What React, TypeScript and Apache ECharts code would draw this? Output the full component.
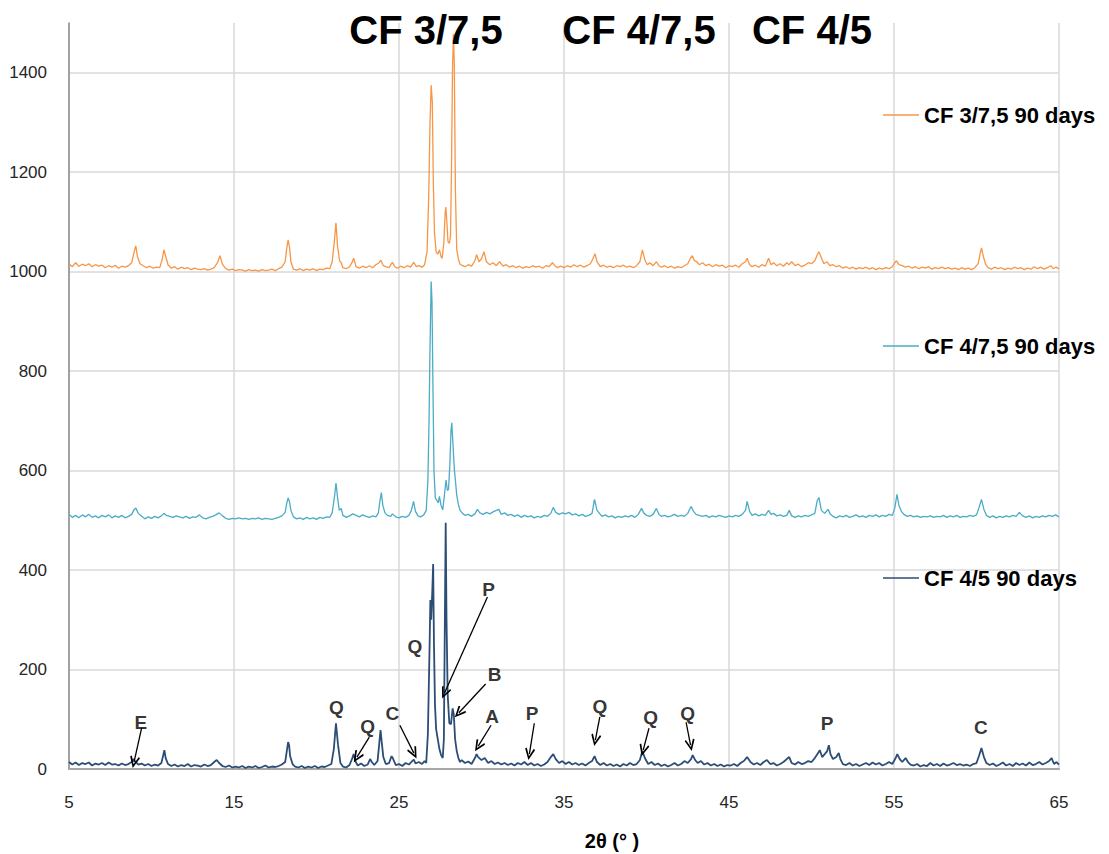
import React, { useEffect, useRef } from "react";
import * as echarts from "echarts";

const seriesNames = ["CF 3/7,5 90 days", "CF 4/7,5 90 days", "CF 4/5 90 days"];
const sampleTitles = ["CF 3/7,5", "CF 4/7,5", "CF 4/5"];
const axisTitle = "2θ (° )";

// CF 3/7,5 90 days  [2θ, intensity]
const cf375: number[][] = [
  [5.0,1016],[5.2,1010],[5.4,1018],[5.6,1011],[5.8,1015],[6.0,1012],[6.2,1016],[6.4,1010],[6.6,1014],[6.8,1011],
  [7.0,1013],[7.2,1008],[7.4,1012],[7.6,1009],[7.8,1013],[8.0,1007],[8.2,1011],[8.4,1009],[8.6,1012],[8.8,1018],
  [8.95,1040],[9.05,1052],[9.15,1030],[9.3,1016],[9.5,1012],[9.7,1008],[9.9,1011],[10.1,1007],[10.3,1009],[10.5,1008],
  [10.65,1025],[10.75,1044],[10.85,1032],[11.0,1014],[11.2,1007],[11.4,1010],[11.6,1005],[11.8,1009],[12.0,1006],[12.2,1008],
  [12.4,1004],[12.6,1007],[12.8,1005],[13.0,1004],[13.2,1006],[13.4,1003],[13.6,1005],[13.8,1008],[14.0,1018],[14.15,1032],
  [14.3,1015],[14.5,1006],[14.7,1003],[14.9,1005],[15.1,1002],[15.3,1004],[15.5,1003],[15.7,1001],[15.9,1004],[16.1,1002],
  [16.3,1003],[16.5,1001],[16.7,1004],[16.9,1002],[17.1,1003],[17.3,1005],[17.5,1002],[17.7,1006],[17.9,1009],[18.1,1020],
  [18.2,1048],[18.28,1064],[18.36,1050],[18.45,1020],[18.6,1005],[18.8,1003],[19.0,1006],[19.2,1002],[19.4,1005],[19.6,1003],
  [19.8,1006],[20.0,1002],[20.2,1005],[20.4,1004],[20.6,1007],[20.8,1006],[20.95,1020],[21.08,1060],[21.18,1098],[21.28,1050],
  [21.4,1022],[21.5,1018],[21.6,1008],[21.8,1006],[22.0,1010],[22.15,1018],[22.25,1027],[22.4,1010],[22.6,1007],[22.8,1011],
  [23.0,1008],[23.2,1012],[23.4,1008],[23.6,1014],[23.8,1018],[23.9,1023],[24.05,1012],[24.2,1010],[24.4,1008],[24.6,1019],
  [24.75,1010],[24.9,1007],[25.1,1011],[25.3,1008],[25.5,1012],[25.7,1009],[25.9,1019],[26.05,1010],[26.2,1012],[26.4,1009],
  [26.55,1014],[26.7,1040],[26.8,1150],[26.88,1300],[26.95,1375],[27.02,1340],[27.08,1180],[27.15,1078],[27.25,1040],[27.35,1035],
  [27.45,1044],[27.55,1030],[27.62,1027],[27.72,1060],[27.8,1120],[27.84,1130],[27.9,1100],[27.97,1060],[28.05,1057],[28.12,1070],
  [28.18,1200],[28.24,1400],[28.3,1478],[28.35,1420],[28.42,1160],[28.5,1045],[28.6,1025],[28.7,1015],[28.85,1012],[29.0,1010],
  [29.2,1014],[29.4,1011],[29.6,1022],[29.7,1034],[29.85,1020],[30.0,1026],[30.15,1040],[30.3,1020],[30.5,1014],[30.7,1018],
  [30.9,1012],[31.1,1020],[31.3,1011],[31.5,1014],[31.7,1009],[31.9,1012],[32.1,1008],[32.3,1011],[32.5,1007],[32.7,1010],
  [32.9,1008],[33.1,1012],[33.3,1009],[33.5,1011],[33.7,1007],[33.9,1012],[34.1,1010],[34.3,1018],[34.45,1012],[34.6,1008],
  [34.8,1011],[35.0,1008],[35.2,1012],[35.4,1009],[35.6,1014],[35.8,1010],[36.0,1013],[36.2,1009],[36.4,1012],[36.6,1016],
  [36.75,1026],[36.88,1036],[37.0,1020],[37.2,1010],[37.4,1013],[37.6,1009],[37.8,1011],[38.0,1008],[38.2,1012],[38.4,1010],
  [38.6,1013],[38.8,1009],[39.0,1011],[39.2,1008],[39.4,1012],[39.6,1020],[39.75,1044],[39.9,1024],[40.05,1014],[40.2,1018],
  [40.4,1012],[40.6,1020],[40.75,1012],[40.9,1009],[41.1,1012],[41.3,1008],[41.5,1011],[41.7,1007],[41.9,1010],[42.1,1008],
  [42.3,1012],[42.5,1016],[42.65,1026],[42.78,1032],[42.9,1022],[43.05,1020],[43.2,1014],[43.4,1018],[43.6,1012],[43.8,1015],
  [44.0,1010],[44.2,1014],[44.4,1011],[44.6,1013],[44.8,1008],[45.0,1012],[45.2,1010],[45.4,1013],[45.6,1009],[45.8,1016],
  [46.0,1020],[46.1,1027],[46.25,1014],[46.4,1010],[46.6,1013],[46.8,1009],[47.0,1014],[47.2,1011],[47.4,1027],[47.55,1014],
  [47.7,1018],[47.9,1012],[48.1,1016],[48.3,1011],[48.5,1018],[48.65,1014],[48.8,1020],[49.0,1012],[49.2,1015],[49.4,1010],
  [49.6,1013],[49.8,1018],[50.0,1016],[50.2,1022],[50.35,1034],[50.45,1040],[50.6,1028],[50.75,1016],[50.95,1020],[51.1,1012],
  [51.3,1014],[51.5,1010],[51.7,1012],[51.9,1007],[52.1,1010],[52.3,1006],[52.5,1009],[52.7,1005],[52.9,1008],[53.1,1006],
  [53.3,1009],[53.5,1005],[53.7,1008],[53.9,1004],[54.1,1007],[54.3,1005],[54.5,1008],[54.7,1006],[54.9,1010],[55.05,1018],
  [55.15,1022],[55.3,1014],[55.5,1012],[55.7,1009],[55.9,1011],[56.1,1007],[56.3,1010],[56.5,1006],[56.7,1009],[56.9,1007],
  [57.1,1010],[57.3,1005],[57.5,1008],[57.7,1006],[57.9,1009],[58.1,1006],[58.3,1008],[58.5,1005],[58.7,1007],[58.9,1004],
  [59.1,1008],[59.3,1005],[59.5,1007],[59.7,1004],[59.9,1008],[60.1,1016],[60.22,1036],[60.3,1048],[60.42,1030],[60.55,1015],
  [60.7,1008],[60.9,1005],[61.1,1009],[61.3,1006],[61.5,1008],[61.7,1004],[61.9,1007],[62.1,1005],[62.3,1009],[62.5,1006],
  [62.7,1008],[62.9,1004],[63.1,1007],[63.3,1005],[63.5,1010],[63.7,1006],[63.9,1009],[64.1,1005],[64.3,1008],[64.5,1012],
  [64.65,1006],[64.8,1009],[65.0,1006],
];

// CF 4/7,5 90 days
const cf475: number[][] = [
  [5.0,512],[5.2,506],[5.4,510],[5.6,505],[5.8,511],[6.0,507],[6.2,512],[6.4,506],[6.6,509],[6.8,505],
  [7.0,510],[7.2,507],[7.4,511],[7.6,505],[7.8,509],[8.0,506],[8.2,510],[8.4,505],[8.6,508],[8.8,512],
  [8.95,522],[9.05,525],[9.2,514],[9.4,508],[9.6,503],[9.8,507],[10.0,504],[10.2,508],[10.4,505],[10.6,509],
  [10.75,514],[10.9,510],[11.1,508],[11.3,506],[11.5,509],[11.7,507],[11.9,505],[12.1,508],[12.3,504],[12.5,507],
  [12.7,506],[12.9,511],[13.1,505],[13.3,503],[13.5,506],[13.7,508],[13.9,511],[14.1,515],[14.3,509],[14.5,504],
  [14.7,502],[14.9,504],[15.1,503],[15.3,505],[15.5,503],[15.7,504],[15.9,502],[16.1,504],[16.3,503],[16.5,505],
  [16.7,502],[16.9,504],[17.1,503],[17.3,502],[17.5,504],[17.7,506],[17.9,509],[18.1,516],[18.2,535],[18.28,545],
  [18.36,538],[18.45,520],[18.6,507],[18.8,503],[19.0,505],[19.2,502],[19.4,506],[19.6,503],[19.8,505],[20.0,502],
  [20.2,506],[20.4,504],[20.6,507],[20.8,506],[20.95,515],[21.1,550],[21.18,575],[21.28,545],[21.38,520],[21.5,524],
  [21.6,510],[21.8,506],[22.0,509],[22.2,513],[22.4,510],[22.6,507],[22.8,511],[23.0,508],[23.2,506],[23.4,509],
  [23.6,507],[23.75,515],[23.85,540],[23.93,556],[24.02,530],[24.15,515],[24.3,510],[24.5,508],[24.6,513],[24.8,507],
  [25.0,505],[25.2,508],[25.4,506],[25.6,510],[25.75,520],[25.88,538],[26.0,518],[26.15,509],[26.3,507],[26.5,511],
  [26.65,520],[26.75,580],[26.82,700],[26.88,850],[26.95,980],[27.0,940],[27.06,760],[27.12,600],[27.2,545],[27.3,540],
  [27.38,535],[27.45,548],[27.55,530],[27.65,521],[27.75,550],[27.85,581],[27.93,560],[28.0,562],[28.08,610],[28.15,680],
  [28.2,696],[28.26,660],[28.32,622],[28.36,600],[28.42,580],[28.5,550],[28.6,532],[28.7,520],[28.85,514],[29.0,510],
  [29.2,512],[29.4,508],[29.6,513],[29.75,522],[29.9,515],[30.1,512],[30.3,516],[30.5,513],[30.7,517],[30.9,520],
  [31.05,522],[31.2,512],[31.4,515],[31.6,510],[31.8,512],[32.0,508],[32.2,511],[32.4,506],[32.6,510],[32.8,507],
  [33.0,509],[33.2,505],[33.4,508],[33.6,506],[33.8,510],[34.0,508],[34.2,514],[34.35,526],[34.5,516],[34.7,512],
  [34.9,515],[35.1,513],[35.3,516],[35.5,511],[35.7,513],[35.9,509],[36.1,512],[36.3,508],[36.5,510],[36.7,514],
  [36.85,542],[37.0,520],[37.15,514],[37.3,508],[37.5,511],[37.7,507],[37.9,509],[38.1,505],[38.3,508],[38.5,506],
  [38.7,509],[38.9,507],[39.1,510],[39.3,506],[39.5,512],[39.7,524],[39.85,514],[40.0,510],[40.2,508],[40.4,512],
  [40.6,524],[40.75,512],[40.9,508],[41.1,510],[41.3,507],[41.5,509],[41.7,512],[41.9,508],[42.1,510],[42.3,508],
  [42.5,514],[42.7,528],[42.85,518],[43.0,512],[43.2,510],[43.4,508],[43.6,510],[43.8,506],[44.0,509],[44.2,507],
  [44.4,510],[44.6,508],[44.8,506],[45.0,509],[45.2,507],[45.4,510],[45.6,508],[45.8,512],[46.0,520],[46.1,538],
  [46.25,518],[46.4,510],[46.6,513],[46.8,509],[47.0,512],[47.2,510],[47.4,520],[47.55,512],[47.7,514],[47.9,509],
  [48.1,511],[48.3,508],[48.5,510],[48.65,520],[48.8,509],[49.0,506],[49.2,509],[49.4,507],[49.6,510],[49.8,508],
  [50.0,511],[50.2,514],[50.35,540],[50.45,546],[50.6,520],[50.8,514],[51.0,522],[51.15,512],[51.3,508],[51.5,505],
  [51.7,509],[51.9,507],[52.1,510],[52.3,506],[52.5,508],[52.7,511],[52.9,507],[53.1,509],[53.3,506],[53.5,510],
  [53.7,508],[53.9,511],[54.1,507],[54.3,510],[54.5,508],[54.7,512],[54.9,510],[55.05,525],[55.18,552],[55.3,530],
  [55.45,518],[55.6,512],[55.8,508],[56.0,510],[56.2,507],[56.4,509],[56.6,506],[56.8,508],[57.0,507],[57.2,509],
  [57.4,506],[57.6,508],[57.8,507],[58.0,510],[58.2,506],[58.4,509],[58.6,507],[58.8,510],[59.0,506],[59.2,508],
  [59.4,507],[59.6,510],[59.8,508],[60.0,511],[60.15,525],[60.3,542],[60.45,522],[60.6,510],[60.8,506],[61.0,509],
  [61.2,505],[61.4,508],[61.6,506],[61.8,509],[62.0,507],[62.2,510],[62.4,508],[62.6,516],[62.8,509],[63.0,506],
  [63.2,509],[63.4,505],[63.6,508],[63.8,506],[64.0,509],[64.2,507],[64.4,510],[64.6,508],[64.8,511],[65.0,507],
];

// CF 4/5 90 days
const cf45: number[][] = [
  [5.0,14],[5.2,9],[5.4,13],[5.6,8],[5.8,12],[6.0,10],[6.2,13],[6.4,7],[6.6,11],[6.8,9],
  [7.0,12],[7.2,8],[7.4,13],[7.6,9],[7.8,10],[8.0,7],[8.2,11],[8.4,8],[8.6,10],[8.8,14],
  [8.9,20],[9.0,16],[9.2,9],[9.4,11],[9.6,7],[9.8,10],[10.0,6],[10.2,9],[10.4,7],[10.6,12],
  [10.7,26],[10.78,38],[10.86,22],[11.0,10],[11.2,6],[11.4,9],[11.6,5],[11.8,8],[12.0,6],[12.2,10],
  [12.4,5],[12.6,8],[12.8,7],[13.0,5],[13.2,9],[13.4,6],[13.6,8],[13.8,14],[13.95,18],[14.1,12],
  [14.3,6],[14.5,4],[14.7,7],[14.9,3],[15.1,5],[15.3,3],[15.5,6],[15.7,2],[15.9,5],[16.1,3],
  [16.3,6],[16.5,2],[16.7,4],[16.9,7],[17.1,3],[17.3,5],[17.5,4],[17.7,6],[17.9,9],[18.1,14],
  [18.2,36],[18.28,54],[18.34,48],[18.4,26],[18.55,10],[18.7,5],[18.9,3],[19.1,6],[19.3,2],[19.5,5],
  [19.7,3],[19.9,6],[20.1,2],[20.3,5],[20.5,4],[20.7,7],[20.9,10],[21.05,40],[21.18,92],[21.3,50],
  [21.45,12],[21.6,5],[21.8,3],[22.0,8],[22.15,20],[22.25,30],[22.35,16],[22.5,7],[22.7,11],[22.9,6],
  [23.1,9],[23.25,20],[23.35,14],[23.5,8],[23.7,16],[23.8,50],[23.88,78],[23.95,55],[24.05,24],[24.2,10],
  [24.4,12],[24.55,26],[24.65,20],[24.8,8],[25.0,10],[25.2,6],[25.4,12],[25.6,9],[25.8,16],[25.9,19],
  [26.0,11],[26.2,14],[26.4,10],[26.55,16],[26.65,12],[26.75,70],[26.85,240],[26.9,340],[26.95,300],[27.02,360],
  [27.07,412],[27.12,250],[27.18,130],[27.25,80],[27.35,60],[27.45,40],[27.55,28],[27.65,22],[27.72,60],[27.78,300],
  [27.83,495],[27.88,300],[27.95,150],[28.05,92],[28.15,90],[28.25,122],[28.32,110],[28.4,60],[28.5,36],[28.6,22],
  [28.7,14],[28.8,18],[29.0,12],[29.2,15],[29.4,10],[29.6,22],[29.7,30],[29.8,24],[30.0,18],[30.2,22],
  [30.4,12],[30.6,16],[30.8,10],[31.0,13],[31.2,9],[31.4,12],[31.6,8],[31.8,11],[32.0,7],[32.2,12],
  [32.4,9],[32.6,14],[32.8,8],[33.0,12],[33.2,7],[33.4,10],[33.6,6],[33.8,9],[34.0,14],[34.2,24],
  [34.35,30],[34.5,20],[34.7,12],[34.9,16],[35.1,10],[35.3,14],[35.5,9],[35.7,12],[35.9,8],[36.1,11],
  [36.3,7],[36.5,12],[36.7,16],[36.85,26],[37.0,14],[37.2,8],[37.4,12],[37.6,7],[37.8,10],[38.0,6],
  [38.2,9],[38.4,5],[38.6,10],[38.8,7],[39.0,12],[39.2,8],[39.4,10],[39.6,18],[39.75,36],[39.9,22],
  [40.1,10],[40.3,14],[40.5,8],[40.7,11],[40.9,6],[41.1,9],[41.3,5],[41.5,8],[41.7,12],[41.9,7],
  [42.1,10],[42.3,16],[42.5,12],[42.7,20],[42.8,28],[42.95,18],[43.1,12],[43.3,16],[43.5,9],[43.7,12],
  [43.9,7],[44.1,10],[44.3,6],[44.5,9],[44.7,5],[44.9,8],[45.1,7],[45.3,10],[45.5,6],[45.7,12],
  [45.9,16],[46.1,24],[46.3,14],[46.5,9],[46.7,12],[46.9,8],[47.1,14],[47.3,18],[47.5,10],[47.7,12],
  [47.9,7],[48.1,10],[48.3,14],[48.5,20],[48.65,24],[48.8,12],[49.0,9],[49.2,14],[49.4,10],[49.6,12],
  [49.8,16],[50.0,14],[50.2,22],[50.4,32],[50.5,38],[50.65,24],[50.8,30],[50.95,36],[51.05,48],[51.15,30],
  [51.3,20],[51.5,24],[51.65,32],[51.75,20],[51.9,10],[52.1,8],[52.3,12],[52.5,7],[52.7,10],[52.9,6],
  [53.1,9],[53.3,12],[53.5,8],[53.7,13],[53.9,9],[54.1,12],[54.3,7],[54.5,10],[54.7,14],[54.9,10],
  [55.1,22],[55.2,30],[55.35,20],[55.5,14],[55.7,22],[55.85,14],[56.0,9],[56.2,7],[56.4,10],[56.6,5],
  [56.8,8],[57.0,6],[57.2,12],[57.4,7],[57.6,10],[57.8,6],[58.0,11],[58.2,7],[58.4,9],[58.6,12],
  [58.8,8],[59.0,10],[59.2,7],[59.4,9],[59.6,6],[59.8,10],[60.0,12],[60.15,26],[60.3,42],[60.45,24],
  [60.6,12],[60.8,8],[61.0,11],[61.2,6],[61.4,9],[61.6,13],[61.8,7],[62.0,10],[62.2,6],[62.4,12],
  [62.6,8],[62.8,11],[63.0,7],[63.2,13],[63.4,8],[63.6,10],[63.8,14],[64.0,9],[64.2,12],[64.4,16],
  [64.55,22],[64.7,10],[64.85,14],[65.0,9],
];

// phase letters: [2θ, intensity, letter]
const peakLabels: [number, number, string][] = [
  [9.36, 94, "E"], [21.2, 123, "Q"], [23.1, 85, "Q"], [24.6, 112, "C"], [25.97, 247, "Q"],
  [30.43, 360, "P"], [30.8, 191, "B"], [30.65, 105, "A"], [33.06, 111, "P"], [37.17, 125, "Q"],
  [40.25, 103, "Q"], [42.5, 112, "Q"], [50.95, 91, "P"], [60.27, 84, "C"],
];

// arrows: [from 2θ, from intensity, to 2θ, to intensity]
const peakArrows: [number, number, number, number][] = [
  [9.4, 82, 8.94, 14], [23.2, 64, 22.45, 24], [25.05, 88, 25.9, 32], [30.36, 346, 27.76, 153],
  [30.25, 171, 28.63, 113], [30.58, 88, 29.8, 46], [33.2, 92, 32.9, 30], [37.17, 105, 36.9, 58],
  [40.15, 82, 39.8, 38], [42.4, 94, 42.67, 48],
];

const colors = ["#F79646", "#4BACC6", "#2C4D75"];
const FONT = "'Liberation Sans', Arial, sans-serif";
const chevron = "path://M5 0 L10 9 L8.6 10 L5 3.2 L1.4 10 L0 9 Z";

export default function App() {
  const ref = useRef<HTMLDivElement>(null);
  useEffect(() => {
    if (!ref.current) return;
    const chart = echarts.init(ref.current, null, { renderer: "svg" });
    const datasets = [cf375, cf475, cf45];
    const legendTops = [103, 334, 566];
    chart.setOption({
      animation: false,
      textStyle: { fontFamily: FONT },
      grid: { left: 69, right: 50, top: 23, bottom: 85, containLabel: false },
      legend: seriesNames.map((n, i) => ({
        data: [n],
        left: 883,
        top: legendTops[i],
        padding: 0,
        icon: "rect",
        itemWidth: 36,
        itemHeight: 1.6,
        itemGap: 4,
        selectedMode: false,
        textStyle: { fontFamily: FONT, fontSize: 22, fontWeight: "bold", color: "#000", lineHeight: 24 },
      })),
      xAxis: {
        type: "value",
        min: 5,
        max: 65,
        interval: 10,
        axisLine: { show: true, lineStyle: { color: "#A6A6A6", width: 2 } },
        axisTick: { show: false },
        axisLabel: { color: "#262626", fontSize: 17, margin: 25, fontFamily: FONT, formatter: (v: number) => String(v) },
        splitLine: { show: true, lineStyle: { color: "#D9D9D9", width: 1.5 } },
      },
      yAxis: {
        type: "value",
        min: 0,
        max: 1500,
        interval: 200,
        axisLine: { show: true, lineStyle: { color: "#8C8C8C", width: 1.5 } },
        axisTick: { show: false },
        axisLabel: {
          color: "#262626",
          fontSize: 17,
          margin: 22,
          showMaxLabel: false,
          fontFamily: FONT,
          formatter: (v: number) => (v % 200 === 0 ? String(v) : ""),
        },
        splitLine: { show: true, showMaxLine: false, lineStyle: { color: "#D9D9D9", width: 1.5 } },
      },
      series: [
        ...datasets.map((d, i) => ({
          name: seriesNames[i],
          type: "line",
          data: d,
          symbol: "none",
          showSymbol: false,
          smooth: false,
          color: colors[i],
          itemStyle: { color: colors[i] },
          lineStyle: { color: colors[i], width: i === 2 ? 1.8 : 1.3 },
          emphasis: { disabled: true },
          z: 3,
          ...(i === 2
            ? {
                markLine: {
                  silent: true,
                  animation: false,
                  symbol: ["none", chevron],
                  symbolSize: [10, 12],
                  label: { show: false },
                  lineStyle: { color: "#000", width: 1.3, type: "solid" },
                  emphasis: { disabled: true },
                  data: peakArrows.map((a) => [
                    { coord: [a[0], a[1]] },
                    { coord: [a[2], a[3]] },
                  ]),
                },
              }
            : {}),
        })),
        {
          name: "labels",
          type: "scatter",
          data: peakLabels.map((p) => ({ value: [p[0], p[1]], name: p[2] })),
          symbolSize: 1,
          itemStyle: { color: "transparent" },
          silent: true,
          z: 5,
          label: {
            show: true,
            position: "inside",
            formatter: (p: any) => p.name,
            color: "#000",
            fontSize: 19,
            fontWeight: "bold",
            fontFamily: FONT,
          },
        },
      ],
      graphic: [
        ...sampleTitles.map((t, i) => ({
          type: "text",
          x: [426, 639, 812][i],
          y: 30,
          z: 100,
          style: {
            text: t,
            fill: "#000",
            font: `bold 40px ${FONT}`,
            align: "center",
            verticalAlign: "middle",
            textAlign: "center",
            textVerticalAlign: "middle",
          },
        })),
        {
          type: "text",
          x: 612,
          y: 841,
          z: 100,
          style: {
            text: axisTitle,
            fill: "#000",
            font: `bold 20px ${FONT}`,
            align: "center",
            verticalAlign: "middle",
            textAlign: "center",
            textVerticalAlign: "middle",
          },
        },
      ],
    });
    return () => chart.dispose();
  }, []);
  return (
    <div
      ref={ref}
      style={{ position: "fixed", left: 0, top: 0, width: 1109, height: 854, background: "#fff" }}
    />
  );
}
